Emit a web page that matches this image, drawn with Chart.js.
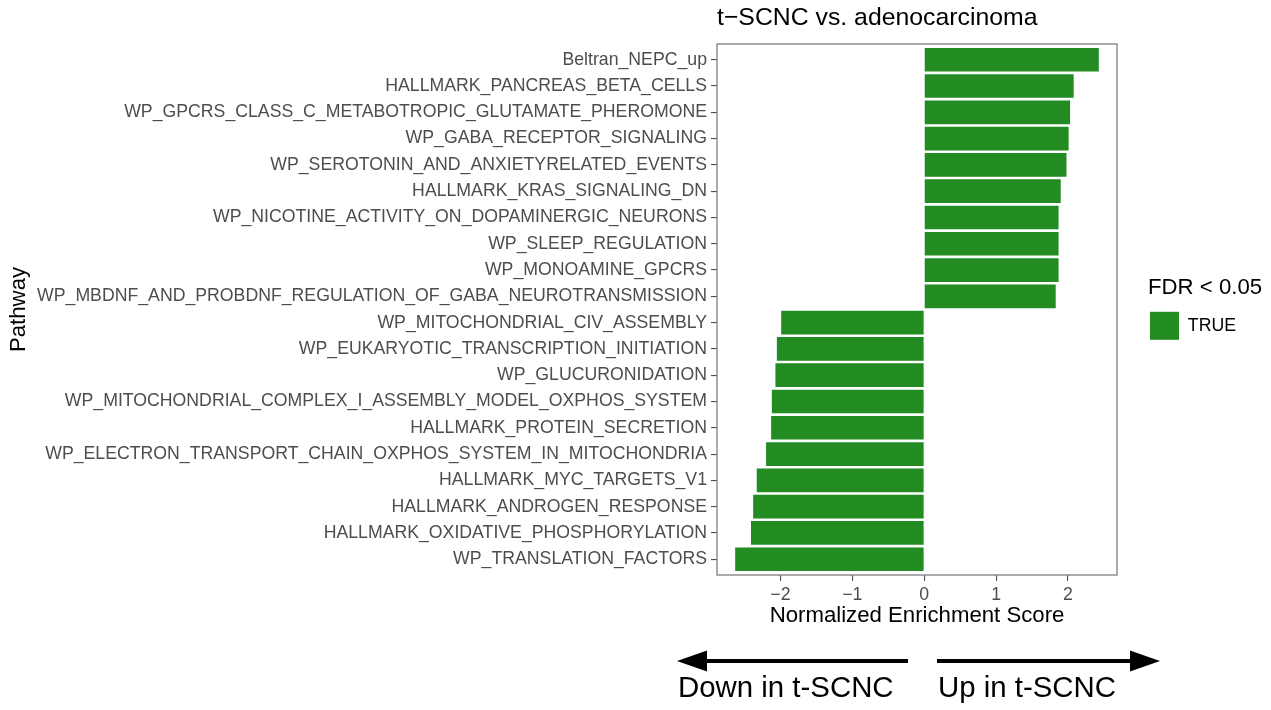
<!DOCTYPE html>
<html>
<head>
<meta charset="utf-8">
<script src="https://cdn.jsdelivr.net/npm/chart.js@4.4.1/dist/chart.umd.min.js"></script>
<style>
  html, body { margin: 0; padding: 0; background: #fff; }
  #wrap { width: 1271px; height: 710px; }
</style>
</head>
<body>
<div id="wrap"><canvas id="chart" width="1271" height="710"></canvas></div>
<script>
// pathways, top to bottom
const pathways = [
    'Beltran_NEPC_up',
    'HALLMARK_PANCREAS_BETA_CELLS',
    'WP_GPCRS_CLASS_C_METABOTROPIC_GLUTAMATE_PHEROMONE',
    'WP_GABA_RECEPTOR_SIGNALING',
    'WP_SEROTONIN_AND_ANXIETYRELATED_EVENTS',
    'HALLMARK_KRAS_SIGNALING_DN',
    'WP_NICOTINE_ACTIVITY_ON_DOPAMINERGIC_NEURONS',
    'WP_SLEEP_REGULATION',
    'WP_MONOAMINE_GPCRS',
    'WP_MBDNF_AND_PROBDNF_REGULATION_OF_GABA_NEUROTRANSMISSION',
    'WP_MITOCHONDRIAL_CIV_ASSEMBLY',
    'WP_EUKARYOTIC_TRANSCRIPTION_INITIATION',
    'WP_GLUCURONIDATION',
    'WP_MITOCHONDRIAL_COMPLEX_I_ASSEMBLY_MODEL_OXPHOS_SYSTEM',
    'HALLMARK_PROTEIN_SECRETION',
    'WP_ELECTRON_TRANSPORT_CHAIN_OXPHOS_SYSTEM_IN_MITOCHONDRIA',
    'HALLMARK_MYC_TARGETS_V1',
    'HALLMARK_ANDROGEN_RESPONSE',
    'HALLMARK_OXIDATIVE_PHOSPHORYLATION',
    'WP_TRANSLATION_FACTORS'
];

// normalized enrichment scores
const nes = [2.43, 2.08, 2.03, 2.01, 1.98, 1.90, 1.87, 1.87, 1.87, 1.83,
    -1.99, -2.05, -2.07, -2.12, -2.13, -2.20, -2.33, -2.38, -2.41, -2.63];

const xTicks = [-2, -1, 0, 1, 2];
const fdrLabel = 'TRUE';

// ggplot style 5% expansion of the data range (bars start at 0)
const lo = Math.min(0, ...nes);
const hi = Math.max(0, ...nes);
const pad = (hi - lo) * 0.05;

Chart.defaults.font.family = '"Liberation Sans", Arial, sans-serif';

const panelBorder = {
    id: 'panelBorder',
    afterLayout(chart) {
        // legend sits a bit away from the panel, and needs room for its title
        const lg = chart.legend;
        lg.left += 31;
        lg.width = 130;
        lg.right = lg.left + lg.width;
    },
    afterDatasetsDraw(chart) {
        const { ctx, chartArea: a } = chart;
        ctx.save();
        ctx.strokeStyle = '#7f7f7f';
        ctx.lineWidth = 1.3;
        ctx.strokeRect(a.left, a.top, a.right - a.left, a.bottom - a.top);
        ctx.restore();
    }
};

// direction arrows under the plot
const arrows = {
    id: 'arrows',
    afterDraw(chart) {
        const ctx = chart.ctx;
        const y = 661;
        ctx.save();
        ctx.strokeStyle = '#000';
        ctx.fillStyle = '#000';
        ctx.lineWidth = 4;
        ctx.beginPath();
        ctx.moveTo(700, y); ctx.lineTo(908, y);
        ctx.moveTo(937, y); ctx.lineTo(1137, y);
        ctx.stroke();
        ctx.beginPath();
        ctx.moveTo(677, y); ctx.lineTo(707, y - 10.5); ctx.lineTo(707, y + 10.5); ctx.closePath();
        ctx.moveTo(1160, y); ctx.lineTo(1130, y - 10.5); ctx.lineTo(1130, y + 10.5); ctx.closePath();
        ctx.fill();
        ctx.font = '29.4px "Liberation Sans", Arial, sans-serif';
        ctx.textBaseline = 'alphabetic';
        ctx.textAlign = 'left';
        ctx.fillText('Down in t-SCNC', 678, 697);
        ctx.fillText('Up in t-SCNC', 938, 697);
        ctx.restore();
    }
};

new Chart(document.getElementById('chart'), {
    type: 'bar',
    data: {
        labels: pathways,
        datasets: [{
            label: fdrLabel,
            data: nes,
            backgroundColor: '#228B22',
            borderWidth: 0,
            categoryPercentage: 0.9,
            barPercentage: 1.0
        }]
    },
    options: {
        indexAxis: 'y',
        responsive: false,
        animation: false,
        devicePixelRatio: 1,
        layout: { padding: { left: 0, top: 0, right: 64, bottom: 75 } },
        scales: {
            x: {
                type: 'linear',
                min: lo - pad,
                max: hi + pad,
                afterFit: s => { s.height = 60; },
                afterBuildTicks: s => { s.ticks = xTicks.map(v => ({ value: v })); },
                grid: { display: true, drawOnChartArea: false, drawTicks: true, tickLength: 6, color: '#4d4d4d', lineWidth: 1.1 },
                border: { display: false },
                ticks: {
                    color: '#4d4d4d',
                    font: { size: 17.7 },
                    padding: 3,
                    maxRotation: 0,
                    callback: v => (v < 0 ? '\u2212' + Math.abs(v) : String(v))
                },
                title: {
                    display: true,
                    text: 'Normalized Enrichment Score',
                    color: '#000',
                    font: { size: 22.2 },
                    padding: { top: 0, bottom: 6 }
                }
            },
            y: {
                afterFit: s => { s.width = 717; },
                // discrete axis expanded by 0.6 of a category on each side, like ggplot
                afterBuildTicks: s => {
                    s._startValue = s.min - 0.6;
                    s._valueRange = (s.max - s.min) + 1.2;
                },
                grid: { display: true, offset: false, drawOnChartArea: false, drawTicks: true, tickLength: 6, color: '#4d4d4d', lineWidth: 1.1 },
                border: { display: false },
                ticks: { color: '#4d4d4d', font: { size: 17.7 }, padding: 4, autoSkip: false },
                title: {
                    display: true,
                    text: 'Pathway',
                    color: '#000',
                    font: { size: 22.2 },
                    padding: { top: 6, bottom: 0 }
                }
            }
        },
        plugins: {
            title: {
                display: true,
                text: 't\u2212SCNC vs. adenocarcinoma',
                align: 'start',
                fullSize: false,
                color: '#000',
                font: { size: 24.8, weight: 'normal' },
                padding: { top: 3.5, bottom: 10.7 }
            },
            legend: {
                position: 'right',
                fullSize: false,
                maxWidth: 90,
                title: {
                    display: true,
                    text: 'FDR < 0.05',
                    position: 'start',
                    color: '#000',
                    font: { size: 22.2 },
                    padding: { top: 0, bottom: 6 }
                },
                labels: {
                    boxWidth: 29,
                    boxHeight: 28,
                    padding: 2,
                    color: '#000',
                    font: { size: 17.7 }
                }
            },
            tooltip: { enabled: false }
        }
    },
    plugins: [panelBorder, arrows]
});
</script>
</body>
</html>
